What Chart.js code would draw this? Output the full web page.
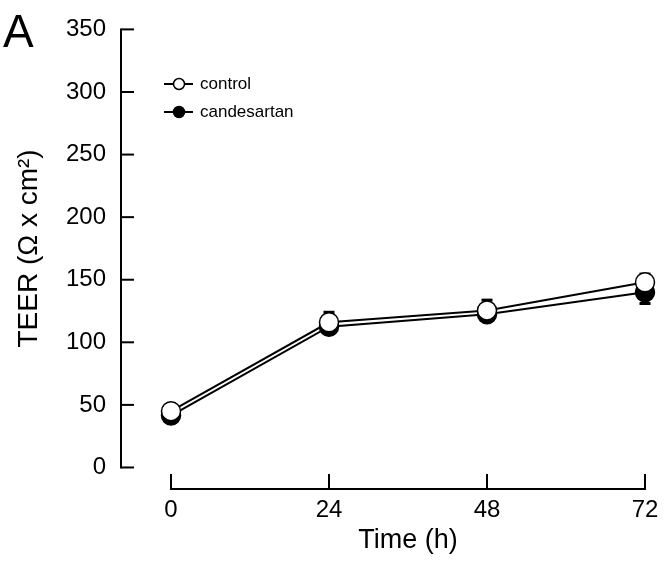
<!DOCTYPE html>
<html><head><meta charset="utf-8">
<script src="https://cdn.jsdelivr.net/npm/chart.js@4.4.1/dist/chart.umd.min.js"></script>
<style>html,body{margin:0;padding:0;background:#fff}#wrap{width:670px;height:564px;position:relative}</style>
</head><body><div id="wrap"><canvas id="c" width="670" height="564"></canvas></div>
<script>
// ---- data ----
const timePoints = [0, 24, 48, 72];
const controlValues = [45, 116, 125.5, 148];
const controlErrors = [2, 3, 3, 6.5];
const controlErrorDir = [1, 1, 1, 1];
const candesartanValues = [41.5, 112.5, 122.5, 140];
const candesartanErrors = [3, 11.5, 11.2, 9];
const candesartanErrorDir = [1, 1, 1, -1];
const yTickValues = [0, 50, 100, 150, 200, 250, 300, 350];
const xTickValues = [0, 24, 48, 72];
const seriesNames = ['control', 'candesartan'];
const panelLabel = 'A';
const xTitle = 'Time (h)';
const yTitle = 'TEER (\u03A9 x cm\u00B2)';

const FONT = '"Liberation Sans", Arial, Helvetica, sans-serif';

function pts(vals){ return timePoints.map((t,i)=>({x:t, y:vals[i]})); }

const errorSets = [
  {values: controlValues, errors: controlErrors, dir: controlErrorDir},
  {values: candesartanValues, errors: candesartanErrors, dir: candesartanErrorDir}
];

const customPlugin = {
  id: 'custom',
  beforeDatasetsDraw(chart){
    const ctx = chart.ctx, xs = chart.scales.x, ys = chart.scales.y;
    ctx.save();
    ctx.strokeStyle = '#000'; ctx.fillStyle = '#000';
    // axes
    ctx.lineWidth = 2;
    const yTop = ys.getPixelForValue(350), yZero = ys.getPixelForValue(0);
    const axX = chart.chartArea.left;
    ctx.beginPath(); ctx.moveTo(axX, yTop - 1); ctx.lineTo(axX, yZero + 1); ctx.stroke();
    yTickValues.forEach(v => {
      const p = ys.getPixelForValue(v);
      ctx.beginPath(); ctx.moveTo(axX, p); ctx.lineTo(axX + 13, p); ctx.stroke();
    });
    const axY = chart.chartArea.bottom;
    const x0 = xs.getPixelForValue(0), x1 = xs.getPixelForValue(72);
    ctx.beginPath(); ctx.moveTo(x0 - 1, axY); ctx.lineTo(x1 + 1, axY); ctx.stroke();
    xTickValues.forEach(v => {
      const p = xs.getPixelForValue(v);
      ctx.beginPath(); ctx.moveTo(p, axY); ctx.lineTo(p, axY - 15); ctx.stroke();
    });
    // error bars
    errorSets.forEach(s => {
      timePoints.forEach((t, i) => {
        const px = xs.getPixelForValue(t);
        const py = ys.getPixelForValue(s.values[i]);
        const pe = ys.getPixelForValue(s.values[i] + s.dir[i] * s.errors[i]);
        ctx.lineWidth = 2;
        ctx.beginPath(); ctx.moveTo(px, py); ctx.lineTo(px, pe); ctx.stroke();
        ctx.lineWidth = 3;
        ctx.beginPath(); ctx.moveTo(px - 5.5, pe); ctx.lineTo(px + 5.5, pe); ctx.stroke();
      });
    });
    ctx.restore();
  },
  afterDraw(chart){
    const ctx = chart.ctx, xs = chart.scales.x, ys = chart.scales.y;
    ctx.save();
    ctx.fillStyle = '#000';
    // panel label
    ctx.font = '46px ' + FONT;
    ctx.textAlign = 'left'; ctx.textBaseline = 'alphabetic';
    ctx.fillText(panelLabel, 3, 47);
    // axis titles
    ctx.font = '27px ' + FONT;
    ctx.textAlign = 'center'; ctx.textBaseline = 'middle';
    ctx.fillText(xTitle, (xs.getPixelForValue(0) + xs.getPixelForValue(72)) / 2, 541);
    ctx.save();
    ctx.font = '28px ' + FONT;
    ctx.translate(29, (ys.getPixelForValue(0) + ys.getPixelForValue(350)) / 2);
    ctx.rotate(-Math.PI / 2);
    ctx.fillText(yTitle, 0, 0);
    ctx.restore();
    // legend
    const legY = [84, 112];
    chart.data.datasets.forEach((ds, i) => {
      const y = legY[i];
      ctx.strokeStyle = '#000'; ctx.lineWidth = 2;
      ctx.beginPath(); ctx.moveTo(164, y); ctx.lineTo(193, y); ctx.stroke();
      ctx.beginPath(); ctx.arc(179, y, 5.5, 0, Math.PI * 2);
      ctx.fillStyle = ds.pointBackgroundColor; ctx.fill();
      ctx.lineWidth = 1.5; ctx.stroke();
      ctx.fillStyle = '#000';
      ctx.font = '17px ' + FONT; ctx.textAlign = 'left'; ctx.textBaseline = 'middle';
      ctx.fillText(ds.label, 200, y);
    });
    ctx.restore();
  }
};

new Chart(document.getElementById('c'), {
  type: 'line',
  data: {
    datasets: [
      { label: seriesNames[0], data: pts(controlValues), borderColor: '#000', borderWidth: 2,
        pointRadius: 9.5, pointHoverRadius: 9.5, pointBackgroundColor: '#fff', pointBorderColor: '#000',
        pointBorderWidth: 1.5, order: 1, tension: 0, clip: false },
      { label: seriesNames[1], data: pts(candesartanValues), borderColor: '#000', borderWidth: 2,
        pointRadius: 9.5, pointHoverRadius: 9.5, pointBackgroundColor: '#000', pointBorderColor: '#000',
        pointBorderWidth: 1.5, order: 2, tension: 0, clip: false }
    ]
  },
  options: {
    responsive: false, animation: false, devicePixelRatio: 1,
    layout: { padding: { left: 0, right: 25, top: 20, bottom: 0 } },
    plugins: { legend: { display: false }, tooltip: { enabled: false } },
    scales: {
      x: {
        type: 'linear', min: -7.595, max: 72,
        afterBuildTicks: s => { s.ticks = xTickValues.map(v => ({ value: v })); },
        afterFit: s => { s.height = 564 - 489; },
        grid: { display: false, drawTicks: false }, border: { display: false },
        ticks: { color: '#000', font: { size: 24, family: FONT }, padding: 7, maxRotation: 0, autoSkip: false }
      },
      y: {
        type: 'linear', min: -17.2, max: 350,
        afterBuildTicks: s => { s.ticks = yTickValues.map(v => ({ value: v })); },
        afterFit: s => { s.width = 121; },
        grid: { display: false, drawTicks: false }, border: { display: false },
        ticks: { color: '#000', font: { size: 24, family: FONT }, padding: 15, autoSkip: false }
      }
    }
  },
  plugins: [customPlugin]
});
</script>
</body></html>
